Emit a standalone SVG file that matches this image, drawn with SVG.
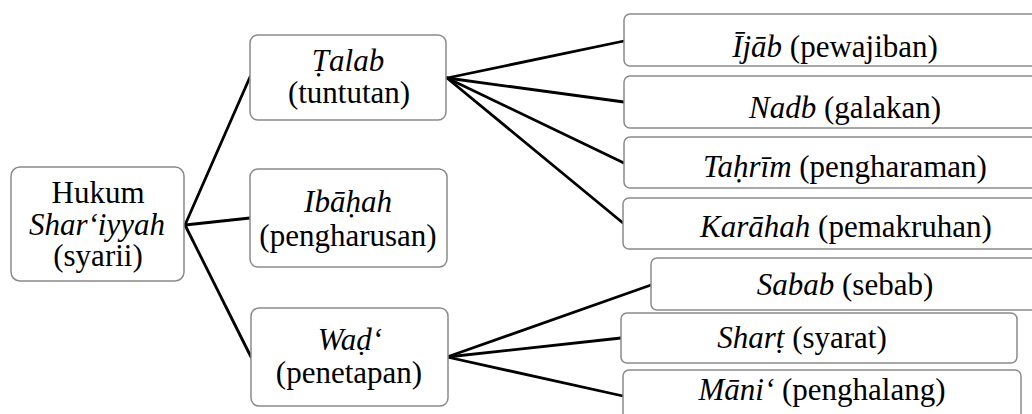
<svg xmlns="http://www.w3.org/2000/svg" width="1032" height="414" viewBox="0 0 1032 414">
<style>
.box{fill:#fff;stroke:#8a8a8a;stroke-width:1.5}
.t{font-family:'Liberation Serif','DejaVu Serif',serif;font-size:31px;fill:#000;text-anchor:middle}
.i{font-style:italic}
.c{stroke:#000;stroke-width:2.8;fill:none;stroke-linecap:round}
</style>
<rect width="1032" height="414" fill="#fff"/>
<g id="connectors">
<line class="c" x1="185" y1="225" x2="250" y2="77"/>
<line class="c" x1="185" y1="225" x2="250" y2="218"/>
<line class="c" x1="185" y1="225" x2="251" y2="357"/>
<line class="c" x1="447" y1="78" x2="624" y2="41"/>
<line class="c" x1="447" y1="78" x2="624" y2="102"/>
<line class="c" x1="447" y1="78" x2="624" y2="163"/>
<line class="c" x1="447" y1="78" x2="623" y2="223"/>
<line class="c" x1="447" y1="357" x2="651" y2="285"/>
<line class="c" x1="447" y1="357" x2="621" y2="338"/>
<line class="c" x1="447" y1="357" x2="623" y2="396"/>
</g>
<g id="root">
<rect class="box" x="11" y="167" width="173" height="114" rx="9"/>
<text class="t" x="98" y="203">Hukum</text>
<text class="t i" x="97" y="235">Shar‘iyyah</text>
<text class="t" x="98" y="266">(syarii)</text>
</g>
<g id="talab">
<rect class="box" x="250" y="35" width="196" height="85" rx="8"/>
<text class="t i" x="348" y="71">Ṭalab</text>
<text class="t" x="349" y="103">(tuntutan)</text>
</g>
<g id="ibahah">
<rect class="box" x="250" y="169" width="197" height="98" rx="8"/>
<text class="t i" x="348" y="212">Ibāḥah</text>
<text class="t" x="348" y="246">(pengharusan)</text>
</g>
<g id="wad">
<rect class="box" x="251" y="308" width="197" height="98" rx="8"/>
<text class="t i" x="350" y="350">Waḍ‘</text>
<text class="t" x="349" y="383">(penetapan)</text>
</g>
<g id="ijab">
<rect class="box" x="624" y="14" width="420" height="52" rx="6"/>
<text class="t" x="835" y="57"><tspan class="i">Ījāb</tspan> (pewajiban)</text>
</g>
<g id="nadb">
<rect class="box" x="624" y="76" width="420" height="52" rx="6"/>
<text class="t" x="845" y="118"><tspan class="i">Nadb</tspan> (galakan)</text>
</g>
<g id="tahrim">
<rect class="box" x="624" y="137" width="420" height="51" rx="6"/>
<text class="t" x="845" y="177"><tspan class="i">Taḥrīm</tspan> (pengharaman)</text>
</g>
<g id="karahah">
<rect class="box" x="623" y="198" width="420" height="51" rx="6"/>
<text class="t" x="846" y="237"><tspan class="i">Karāhah</tspan> (pemakruhan)</text>
</g>
<g id="sabab">
<rect class="box" x="651" y="258" width="400" height="52" rx="6"/>
<text class="t" x="845" y="295"><tspan class="i">Sabab</tspan> (sebab)</text>
</g>
<g id="shart">
<rect class="box" x="621" y="313" width="396" height="50" rx="6"/>
<text class="t" x="802" y="348"><tspan class="i">Sharṭ</tspan> (syarat)</text>
</g>
<g id="mani">
<rect class="box" x="623" y="370" width="398" height="60" rx="6"/>
<text class="t" x="822" y="400"><tspan class="i">Māni‘</tspan> (penghalang)</text>
</g>
</svg>
